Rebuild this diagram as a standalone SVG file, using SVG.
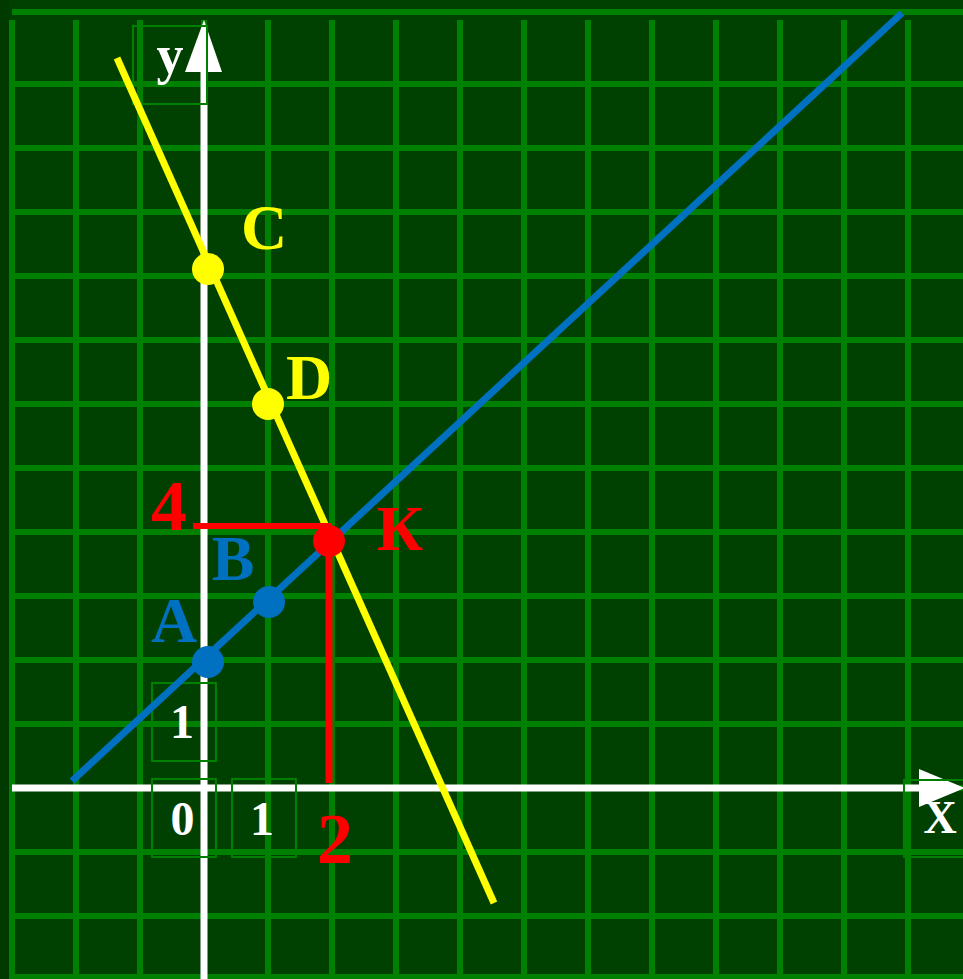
<svg xmlns="http://www.w3.org/2000/svg" width="963" height="979" viewBox="0 0 963 979">
<style>
.grid line{stroke:#008000;stroke-width:6}
.box{fill:none;stroke:#008000;stroke-width:2}
.t{font-family:"Liberation Serif","Times New Roman",serif;font-weight:bold;text-anchor:middle}
.w{fill:#ffffff}
.yl{fill:#ffff00}
.bl{fill:#0070c0}
.rd{fill:#ff0000}
</style>
<rect x="0" y="0" width="963" height="979" fill="#004000"/>
<rect x="0" y="0" width="9" height="979" fill="#003a00"/>
<g id="grid" class="grid">
<line x1="12" y1="12" x2="963" y2="12"/>
<line x1="12" y1="84" x2="963" y2="84"/>
<line x1="12" y1="148" x2="963" y2="148"/>
<line x1="12" y1="212" x2="963" y2="212"/>
<line x1="12" y1="276" x2="963" y2="276"/>
<line x1="12" y1="340" x2="963" y2="340"/>
<line x1="12" y1="404" x2="963" y2="404"/>
<line x1="12" y1="468" x2="963" y2="468"/>
<line x1="12" y1="532" x2="963" y2="532"/>
<line x1="12" y1="596" x2="963" y2="596"/>
<line x1="12" y1="660" x2="963" y2="660"/>
<line x1="12" y1="724" x2="963" y2="724"/>
<line x1="12" y1="788" x2="963" y2="788"/>
<line x1="12" y1="852" x2="963" y2="852"/>
<line x1="12" y1="916" x2="963" y2="916"/>
<line x1="12" y1="977" x2="963" y2="977"/>
<line x1="12" y1="20" x2="12" y2="979"/>
<line x1="76" y1="20" x2="76" y2="979"/>
<line x1="140" y1="20" x2="140" y2="979"/>
<line x1="204" y1="20" x2="204" y2="979"/>
<line x1="268" y1="20" x2="268" y2="979"/>
<line x1="332" y1="20" x2="332" y2="979"/>
<line x1="396" y1="20" x2="396" y2="979"/>
<line x1="460" y1="20" x2="460" y2="979"/>
<line x1="524" y1="20" x2="524" y2="979"/>
<line x1="588" y1="20" x2="588" y2="979"/>
<line x1="652" y1="20" x2="652" y2="979"/>
<line x1="716" y1="20" x2="716" y2="979"/>
<line x1="780" y1="20" x2="780" y2="979"/>
<line x1="844" y1="20" x2="844" y2="979"/>
<line x1="908" y1="20" x2="908" y2="979"/>
</g>
<g id="axis-y">
<line x1="204" y1="70" x2="204" y2="979" stroke="#ffffff" stroke-width="7"/>
<polygon points="204,20 185,72 222,72" fill="#ffffff"/>
<rect class="box" x="133" y="26" width="74" height="78"/>
<text class="t w" x="170" y="73" font-size="54">y</text>
</g>
<g id="axis-x">
<line x1="12" y1="788" x2="922" y2="788" stroke="#ffffff" stroke-width="7"/>
<polygon points="919,769 965,788 919,807" fill="#ffffff"/>
<rect class="box" x="904" y="780" width="70" height="77"/>
<text class="t w" x="940" y="833" font-size="46">X</text>
</g>
<g id="ticks">
<rect class="box" x="152" y="683" width="64" height="78"/>
<text class="t w" x="182" y="738" font-size="48">1</text>
<rect class="box" x="152" y="779" width="64" height="78"/>
<text class="t w" x="182.5" y="835" font-size="48">0</text>
<rect class="box" x="232" y="779" width="64" height="78"/>
<text class="t w" x="262" y="835" font-size="48">1</text>
</g>
<g id="connectors">
<line id="line-blue" x1="72" y1="781" x2="902" y2="13" stroke="#0070c0" stroke-width="7"/>
<line id="line-yellow" x1="117" y1="58" x2="494" y2="903" stroke="#ffff00" stroke-width="7"/>
<line id="proj-y" x1="193" y1="526" x2="332" y2="526" stroke="#ff0000" stroke-width="6"/>
<line id="proj-x" x1="329" y1="526" x2="329" y2="783" stroke="#ff0000" stroke-width="7"/>
</g>
<g id="C">
<circle cx="208" cy="269" r="16" fill="#ffff00"/>
<text class="t yl" x="264" y="249" font-size="64">C</text>
</g>
<g id="D">
<circle cx="268" cy="404" r="16" fill="#ffff00"/>
<text class="t yl" x="309" y="399" font-size="64">D</text>
</g>
<g id="B">
<circle cx="269" cy="602" r="16" fill="#0070c0"/>
<text class="t bl" x="233" y="580" font-size="64">B</text>
</g>
<g id="A">
<circle cx="208" cy="662" r="16" fill="#0070c0"/>
<text class="t bl" x="174" y="642" font-size="64">A</text>
</g>
<g id="K">
<circle cx="329" cy="541" r="16" fill="#ff0000"/>
<text class="t rd" x="400" y="550" font-size="64">К</text>
</g>
<g id="label-4">
<text class="t rd" x="169" y="530" font-size="72">4</text>
</g>
<g id="label-2">
<text class="t rd" x="335" y="863" font-size="72">2</text>
</g>
</svg>
